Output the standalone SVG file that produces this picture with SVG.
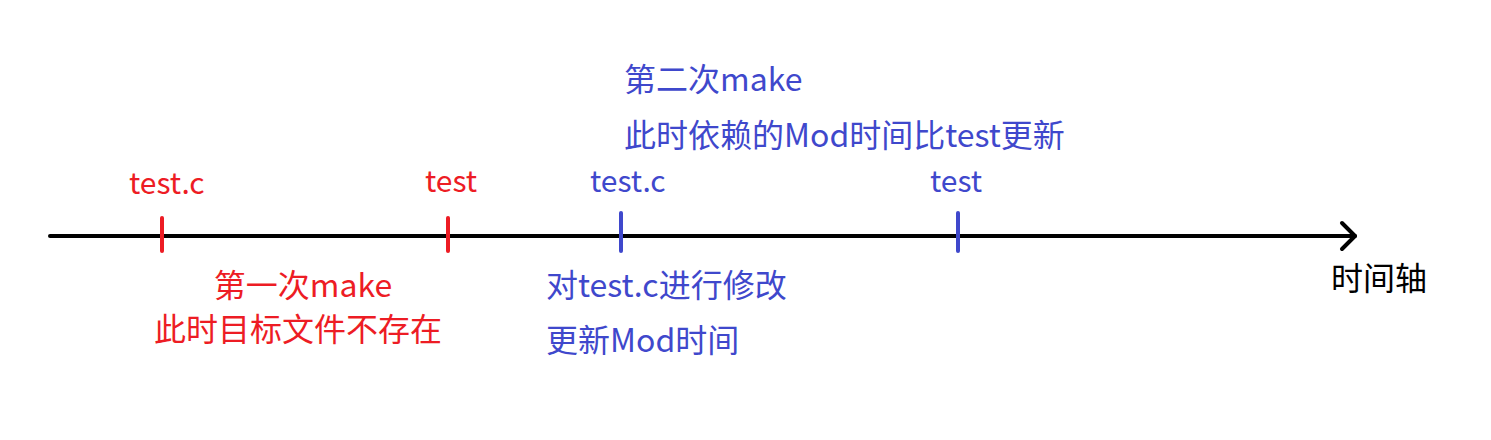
<svg xmlns="http://www.w3.org/2000/svg" width="1491" height="440" viewBox="0 0 1491 440">
<style>
text{font-family:"Noto Sans CJK SC","Noto Sans",sans-serif;font-size:32px}
text.l{font-size:30px}
.r{fill:#ED1C24}.b{fill:#3F48CC}.k{fill:#000}
.tr{stroke:#ED1C24;stroke-width:4;stroke-linecap:round}
.tb{stroke:#3F48CC;stroke-width:4;stroke-linecap:round}
.ax{stroke:#000;stroke-width:4;fill:none;stroke-linecap:round;stroke-linejoin:round}
</style>
<rect width="1491" height="440" fill="#fff"/>
<g id="connectors">
<path class="ax" d="M50 236 H1355"/>
<path class="ax" d="M1342 223 L1355 236 L1342 249"/>
</g>
<g id="tick-testc1"><line class="tr" x1="162" y1="218" x2="162" y2="251"/><text class="r l" x="129" y="194">test.c</text></g>
<g id="tick-test1"><line class="tr" x1="448" y1="218" x2="448" y2="251"/><text class="r l" x="425" y="192">test</text></g>
<g id="tick-testc2"><line class="tb" x1="621" y1="213" x2="621" y2="251"/><text class="b l" x="590" y="192">test.c</text></g>
<g id="tick-test2"><line class="tb" x1="958" y1="213" x2="958" y2="251"/><text class="b l" x="930" y="192">test</text></g>
<g id="note-first"><text class="r" x="303" y="297" text-anchor="middle">第一次make</text><text class="r" x="298" y="341" text-anchor="middle">此时目标文件不存在</text></g>
<g id="note-second"><text class="b" x="624" y="91">第二次make</text><text class="b" x="624" y="147">此时依赖的Mod时间比test更新</text></g>
<g id="note-modify"><text class="b" x="546" y="297">对test.c进行修改</text><text class="b" x="546" y="352">更新Mod时间</text></g>
<g id="axis-label"><text class="k" x="1331" y="290">时间轴</text></g>
</svg>
